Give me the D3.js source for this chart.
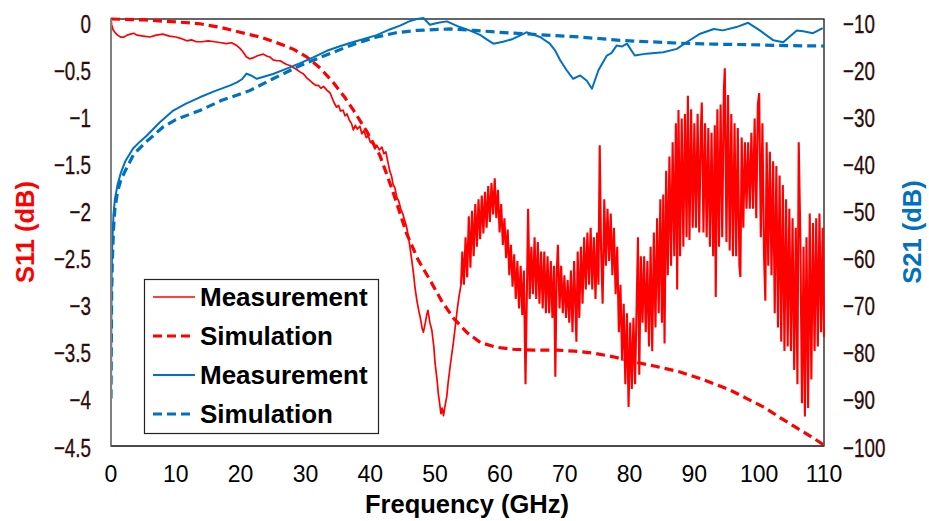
<!doctype html>
<html lang="en">
<head>
<meta charset="UTF-8">
<script src="https://d3js.org/d3.v7.min.js"></script>
<style>
body { margin: 0; background: #fff; }
svg { display: block; font-family: "Liberation Sans", Arial, sans-serif; }
.ytick { font-size: 26.5px; fill: #2e0b0b; stroke: #2e0b0b; stroke-width: 0.35px; }
.xtick { font-size: 23px; fill: #000; }
.title { font-size: 25.5px; font-weight: bold; }
.legend text { font-size: 26px; font-weight: bold; fill: #000; }
</style>
</head>
<body>
<svg id="chart" width="929" height="521"></svg>
<script>
// tick labels
var freqTicks = [0, 10, 20, 30, 40, 50, 60, 70, 80, 90, 100, 110];
var s11Ticks = [0, -0.5, -1, -1.5, -2, -2.5, -3, -3.5, -4, -4.5];
var s21Ticks = [-10, -20, -30, -40, -50, -60, -70, -80, -90, -100];

// S11 simulation [GHz, dB]
var s11Sim = [[0,0],[5,-0.01],[10,-0.03],[13.7,-0.05],[17,-0.09],[19.9,-0.14],[23,-0.19],[26,-0.26],[28.2,-0.32],
  [30.2,-0.40],[32.3,-0.52],[34.3,-0.67],[36,-0.82],[37.4,-0.96],[39.5,-1.19],[41.5,-1.44],[43.5,-1.82],[45.6,-2.26],
  [47.4,-2.54],[49.2,-2.75],[51,-2.97],[52.8,-3.15],[55,-3.31],[57,-3.41],[59.5,-3.46],[62,-3.48],[65,-3.49],[68.8,-3.49],
  [71.5,-3.50],[74.4,-3.52],[77.5,-3.56],[80.5,-3.61],[84,-3.66],[87.8,-3.72],[90.5,-3.78],[92.9,-3.84],[95.5,-3.91],
  [98.1,-4.00],[100.7,-4.09],[103.2,-4.20],[105.8,-4.31],[108,-4.40],[110,-4.49]];

// S11 measurement, smooth part [GHz, dB]
var s11MeasLow = [[0,0],[0.1,-0.06],[0.3,-0.11],[0.6,-0.14],[1,-0.17],[1.5,-0.19],[2,-0.19],[2.5,-0.17],[3,-0.16],
  [3.5,-0.15],[4,-0.17],[5,-0.18],[6,-0.19],[7,-0.17],[8,-0.16],[9,-0.18],[10,-0.19],[11,-0.21],[11.7,-0.23],[12.4,-0.22],
  [13.2,-0.24],[14,-0.24],[15,-0.23],[16,-0.24],[17,-0.25],[17.8,-0.26],[18.6,-0.25],[19.4,-0.28],[19.9,-0.31],[20.4,-0.35],
  [20.9,-0.40],[21.4,-0.42],[21.9,-0.41],[22.5,-0.39],[23,-0.38],[23.5,-0.37],[24,-0.39],[24.5,-0.40],[25,-0.43],
  [25.6,-0.44],[26.1,-0.44],[26.6,-0.46],[27.1,-0.48],[27.6,-0.49],[28.1,-0.51],[28.6,-0.53],[29.2,-0.56],[29.7,-0.58],
  [30.2,-0.62],[30.7,-0.65],[31.2,-0.68],[31.6,-0.70],[32,-0.70],[32.4,-0.73],[32.8,-0.71],[33.3,-0.75],[33.8,-0.78],
  [34.1,-0.83],[34.4,-0.88],[34.8,-0.93],[35.1,-0.91],[35.4,-0.97],[35.8,-0.96],[36.1,-1.02],[36.4,-1.00],[36.8,-1.07],
  [37.1,-1.10],[37.4,-1.17],[37.7,-1.12],[38,-1.16],[38.4,-1.13],[38.7,-1.21],[39,-1.18],[39.4,-1.25],[39.7,-1.23],
  [40,-1.30],[40.4,-1.31],[40.7,-1.37],[41,-1.33],[41.4,-1.38],[41.8,-1.35],[42.1,-1.42],[42.4,-1.40],[42.7,-1.50],
  [43,-1.60],[43.3,-1.66],[43.5,-1.74],[43.8,-1.78],[44.1,-1.88],[44.4,-1.92],[44.7,-2.00],[45,-2.05],[45.3,-2.12],
  [45.6,-2.19],[45.9,-2.30],[46.2,-2.44],[46.4,-2.54],[46.7,-2.70],[46.9,-2.83],[47.2,-2.97],[47.5,-3.08],[47.7,-3.14],
  [48,-3.26],[48.2,-3.30],[48.5,-3.20],[48.7,-3.12],[48.9,-3.07],[49.2,-3.20],[49.5,-3.28],[49.8,-3.45],[50,-3.63],
  [50.3,-3.80],[50.5,-3.95],[50.7,-4.05],[50.9,-4.16],[51.1,-4.10],[51.3,-4.18],[51.5,-4.09],[51.8,-3.98],[52,-3.84],
  [52.4,-3.62],[52.8,-3.42],[53.1,-3.25],[53.4,-3.07],[53.7,-2.92],[54,-2.80]];

// S11 measurement, noisy part [GHz, dB], alternating upper and lower readings
var s11MeasHigh = [[54.2,-2.45],[54.45,-2.8],[54.7,-2.3],[54.95,-2.72],[55.2,-2.08],[55.45,-2.62],[55.7,-2.02],
  [55.95,-2.5],[56.2,-1.95],[56.45,-2.4],[56.7,-1.9],[56.95,-2.32],[57.2,-1.86],[57.45,-2.26],[57.7,-1.82],[57.95,-2.2],
  [58.2,-1.76],[58.45,-2.14],[58.7,-1.73],[58.95,-2.06],[59.2,-1.68],[59.45,-2.1],[59.7,-1.8],[59.95,-2.25],[60.2,-1.95],
  [60.45,-2.38],[60.7,-2.1],[60.95,-2.52],[61.2,-2.22],[61.45,-2.7],[61.7,-2.38],[61.95,-2.82],[62.2,-2.48],[62.45,-2.95],
  [62.7,-2.55],[62.95,-3.05],[63.2,-2.6],[63.45,-3.12],[63.7,-2.65],[63.95,-3.85],[64.2,-2.7],[64.35,-2.0],[64.6,-2.95],
  [64.85,-2.4],[65.1,-2.9],[65.35,-2.3],[65.6,-2.95],[65.85,-2.35],[66.1,-3.0],[66.35,-2.45],[66.6,-3.05],[66.85,-2.45],
  [67.1,-3.1],[67.35,-2.5],[67.6,-3.1],[67.85,-2.55],[68.1,-3.15],[68.35,-2.6],[68.55,-3.77],[68.75,-2.7],[68.95,-2.38],
  [69.2,-3.05],[69.45,-2.6],[69.7,-3.1],[69.95,-2.7],[70.2,-3.15],[70.45,-2.75],[70.7,-3.2],[70.95,-2.65],[71.2,-3.3],
  [71.45,-2.55],[71.8,-3.4],[72.0,-2.45],[72.25,-3.15],[72.5,-2.4],[72.75,-3.0],[73.0,-2.3],[73.25,-2.85],[73.5,-2.25],
  [73.75,-2.8],[74.0,-2.2],[74.25,-2.85],[74.5,-2.3],[74.75,-2.95],[75.0,-2.25],[75.2,-2.8],[75.4,-1.33],[75.6,-2.4],
  [75.85,-3.0],[76.1,-1.9],[76.35,-2.6],[76.6,-2.0],[76.85,-2.55],[77.1,-2.05],[77.35,-2.7],[77.6,-2.2],[77.85,-2.9],
  [78.1,-2.4],[78.35,-3.3],[78.6,-2.8],[78.85,-3.6],[79.1,-3.0],[79.35,-3.85],[79.6,-3.1],[79.85,-4.09],[80.1,-3.2],
  [80.35,-3.9],[80.6,-3.15],[80.85,-3.85],[81.1,-3.0],[81.3,-2.3],[81.5,-3.75],[81.75,-2.5],[82.0,-3.2],[82.25,-2.5],
  [82.5,-3.3],[82.75,-2.55],[83.0,-3.45],[83.25,-2.4],[83.5,-3.5],[83.75,-2.25],[84.0,-3.25],[84.25,-2.1],[84.5,-3.1],
  [84.75,-1.9],[85.0,-3.2],[85.2,-1.85],[85.4,-3.42],[85.65,-1.6],[85.9,-2.7],[86.15,-1.45],[86.4,-2.6],[86.65,-1.3],
  [86.9,-2.5],[87.15,-1.1],[87.35,-2.85],[87.55,-0.96],[87.8,-2.5],[88.05,-1.05],[88.3,-2.4],[88.55,-1.0],[88.8,-2.3],
  [89.0,-0.81],[89.25,-2.33],[89.5,-0.95],[89.75,-2.2],[90.0,-1.1],[90.25,-2.2],[90.5,-1.0],[90.75,-2.25],[91.0,-1.15],
  [91.15,-0.88],[91.4,-2.25],[91.65,-1.1],[91.9,-2.3],[92.15,-1.15],[92.4,-2.4],[92.65,-1.2],[92.9,-2.5],[93.15,-1.12],
  [93.3,-2.93],[93.55,-0.95],[93.8,-2.4],[94.05,-0.9],[94.3,-2.3],[94.55,-0.75],[94.7,-0.52],[94.95,-2.35],[95.2,-0.8],
  [95.45,-2.44],[95.7,-1.0],[95.95,-2.5],[96.2,-1.1],[96.45,-2.5],[96.7,-1.15],[96.95,-2.6],[97.1,-2.72],[97.3,-1.25],
  [97.55,-2.2],[97.8,-1.3],[98.05,-2.0],[98.3,-1.3],[98.55,-2.0],[98.8,-1.2],[99.05,-2.0],[99.3,-1.05],[99.55,-2.1],
  [99.8,-0.9],[100.0,-0.78],[100.25,-2.3],[100.5,-1.1],[100.75,-2.5],[100.95,-2.97],[101.15,-1.3],[101.4,-2.6],
  [101.65,-1.4],[101.9,-2.7],[102.15,-1.5],[102.4,-3.1],[102.65,-1.55],[102.9,-3.25],[103.15,-1.65],[103.4,-3.4],
  [103.65,-1.75],[103.9,-3.5],[104.15,-1.9],[104.4,-3.45],[104.65,-2.0],[104.9,-3.5],[105.15,-2.1],[105.4,-3.7],
  [105.65,-2.2],[105.9,-3.85],[106.1,-1.30],[106.35,-2.3],[106.6,-4.05],[106.85,-2.4],[107.05,-4.19],[107.3,-2.3],
  [107.55,-4.1],[107.8,-2.05],[108.05,-3.8],[108.3,-2.15],[108.55,-3.5],[108.8,-2.1],[109.05,-3.45],[109.3,-2.05],
  [109.55,-3.3],[109.8,-2.2],[110.0,-3.35]];

// S21 simulation [GHz, dB]
var s21Sim = [[0,-90],[0.05,-78],[0.1,-68],[0.2,-61],[0.4,-54],[0.6,-50],[1,-46.5],[1.5,-44],[2.2,-42],[3.5,-38.5],
  [5.5,-35.8],[8,-32.8],[10,-31.2],[13.7,-29.3],[17,-27.2],[21.4,-25.1],[25,-22.6],[29.2,-19.8],[34.3,-17],[37.5,-15.3],
  [41,-13.8],[44,-12.9],[47.2,-12.4],[52.3,-12.1],[56,-12.4],[60,-12.8],[66,-13.3],[72.4,-13.8],[78.5,-14.5],
  [83,-14.8],[87.8,-15.1],[93,-15.3],[98.1,-15.4],[104,-15.6],[110,-15.7]];

// S21 measurement [GHz, dB]
var s21Meas = [[0,-92],[0.05,-75],[0.1,-64],[0.2,-57],[0.4,-51],[0.6,-48],[1,-45],[1.5,-42.5],[2.2,-40],[3.4,-37.3],
  [4.5,-35.8],[5.5,-34.6],[7.5,-31.8],[9.6,-29.3],[11.5,-27.9],[13.7,-26.5],[16,-25.2],[18.4,-24],[19.5,-23.3],
  [20.2,-22.7],[20.9,-21.5],[21.6,-21.9],[22.5,-22.6],[25,-21.6],[27,-20.5],[29.2,-19.3],[31.2,-18.1],[33.3,-16.7],
  [35.2,-15.8],[37,-15],[39,-14.2],[41,-13.4],[43,-12.2],[44.6,-11.4],[46,-10.5],[47.2,-10],[48.2,-9.8],[49.2,-11.2],
  [50.5,-10.8],[51.8,-10.5],[53.8,-11.7],[55.5,-12.5],[57,-13.4],[58.2,-14.5],[59,-15.2],[60.5,-14.8],[62,-14.2],
  [64.1,-12.8],[66.2,-13.8],[67.7,-15.2],[68.5,-16.6],[69.3,-18.7],[70.3,-20.8],[71.3,-22.6],[72.4,-21.9],[73.4,-23],
  [74.2,-24.7],[75.2,-20.8],[76.5,-17.7],[77.2,-17.2],[78,-15.6],[78.8,-15.8],[79.6,-15.2],[80.8,-17.7],[82.6,-17.3],
  [85.2,-17],[87.3,-16.3],[88.8,-14.9],[90.9,-13.1],[93,-12.1],[94.4,-12.4],[96.5,-11.7],[98.3,-10.8],[100.1,-12.4],
  [102.2,-14.5],[103.7,-14.9],[105.8,-12.4],[106.8,-12.6],[108.3,-13],[109.8,-11.9]];

var red = "#ff0000", blue = "#0070c0";

var svg = d3.select("#chart");
var plotL = 111, plotR = 824, plotT = 19, plotB = 446;

var x = d3.scaleLinear().domain([0, 110]).range([plotL, plotR]);
var y1 = d3.scaleLinear().domain([0, -4.5]).range([plotT, plotB]);
var y2 = d3.scaleLinear().domain([-10, -100]).range([plotT, plotB]);
// baselines of the tick labels (they sit slightly off the gridline spacing)
var lab1 = d3.scaleLinear().domain([0, -4.5]).range([33, 456.5]);
var lab2 = d3.scaleLinear().domain([-10, -100]).range([33, 456.5]);

svg.append("defs").append("clipPath").attr("id", "plot")
  .append("rect").attr("x", plotL).attr("y", plotT - 2).attr("width", plotR - plotL + 1).attr("height", plotB - plotT + 2);

// plot frame
svg.append("rect").attr("x", plotL).attr("y", plotT).attr("width", plotR - plotL).attr("height", plotB - plotT)
  .attr("fill", "none").attr("stroke", "#000").attr("stroke-width", 1.2);

var g = svg.append("g").attr("clip-path", "url(#plot)");

var line1 = d3.line().x(function(d) { return x(d[0]); }).y(function(d) { return y1(d[1]); });
var line2 = d3.line().x(function(d) { return x(d[0]); }).y(function(d) { return y2(d[1]); });

g.append("path").datum(s11MeasLow).attr("d", line1)
  .attr("fill", "none").attr("stroke", red).attr("stroke-width", 1.7).attr("stroke-linejoin", "round");
g.append("path").datum([s11MeasLow[s11MeasLow.length - 1]].concat(s11MeasHigh)).attr("d", line1)
  .attr("fill", "none").attr("stroke", red).attr("stroke-width", 2.1).attr("stroke-linejoin", "miter");
g.append("path").datum(s11Sim).attr("d", line1)
  .attr("fill", "none").attr("stroke", red).attr("stroke-width", 3.2).attr("stroke-dasharray", "9,5");
g.append("path").datum(s21Meas).attr("d", line2)
  .attr("fill", "none").attr("stroke", blue).attr("stroke-width", 2).attr("stroke-linejoin", "round");
g.append("path").datum(s21Sim).attr("d", line2)
  .attr("fill", "none").attr("stroke", blue).attr("stroke-width", 3.2).attr("stroke-dasharray", "9,5");

// axis lines over the curves
svg.append("line").attr("x1", plotL).attr("x2", plotL).attr("y1", plotT).attr("y2", plotB)
  .attr("stroke", "#808080").attr("stroke-width", 2);
svg.append("line").attr("x1", plotL).attr("x2", plotR).attr("y1", plotB).attr("y2", plotB)
  .attr("stroke", "#404040").attr("stroke-width", 1.5);

function fmt(v) { return String(v).replace("-", "\u2212"); }

// left ticks
svg.selectAll(".yl").data(s11Ticks).enter().append("text")
  .attr("class", "ytick").attr("text-anchor", "end")
  .attr("transform", function(d) { return "translate(91," + lab1(d) + ") scale(0.71,1)"; })
  .text(fmt);
// right ticks
svg.selectAll(".yr").data(s21Ticks).enter().append("text")
  .attr("class", "ytick").attr("text-anchor", "start")
  .attr("transform", function(d) { return "translate(843," + lab2(d) + ") scale(0.71,1)"; })
  .text(fmt);
// x ticks
svg.selectAll(".xt").data(freqTicks).enter().append("text")
  .attr("class", "xtick").attr("text-anchor", "middle")
  .attr("x", function(d) { return x(d); }).attr("y", 481.5)
  .text(function(d) { return d; });

// titles
svg.append("text").attr("class", "title").attr("text-anchor", "middle")
  .attr("x", 467).attr("y", 513).attr("fill", "#000").text("Frequency (GHz)");
svg.append("text").attr("class", "title").attr("text-anchor", "middle")
  .attr("transform", "translate(34,232) rotate(-90)").attr("fill", red).text("S11 (dB)");
svg.append("text").attr("class", "title").attr("text-anchor", "middle")
  .attr("transform", "translate(921,232) rotate(-90)").attr("fill", blue).text("S21 (dB)");

// legend
var legendItems = [
  {label: "Measurement", color: red, dash: null, w: 1.6},
  {label: "Simulation", color: red, dash: "9,5", w: 3.2},
  {label: "Measurement", color: blue, dash: null, w: 2},
  {label: "Simulation", color: blue, dash: "9,5", w: 3.2}
];
var lg = svg.append("g").attr("class", "legend");
lg.append("rect").attr("x", 144.5).attr("y", 279.5).attr("width", 234).attr("height", 154)
  .attr("fill", "#fff").attr("stroke", "#222").attr("stroke-width", 1.2);
var rows = lg.selectAll(".row").data(legendItems).enter().append("g")
  .attr("transform", function(d, i) { return "translate(0," + (297 + i * 39) + ")"; });
rows.append("line").attr("x1", 153).attr("x2", 195).attr("y1", 0).attr("y2", 0)
  .attr("stroke", function(d) { return d.color; })
  .attr("stroke-width", function(d) { return d.w; })
  .attr("stroke-dasharray", function(d) { return d.dash; });
rows.append("text").attr("x", 200).attr("y", 9).text(function(d) { return d.label; });
</script>
</body>
</html>
